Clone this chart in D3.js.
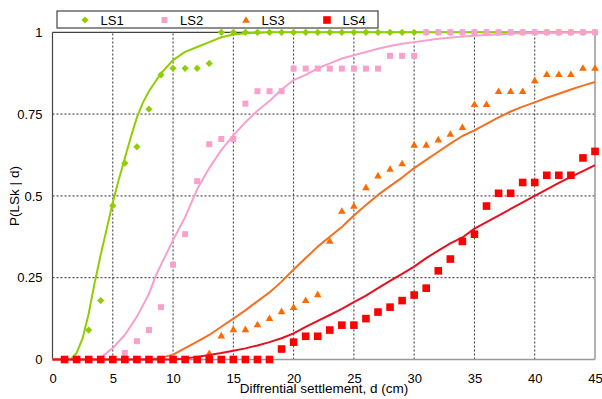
<!DOCTYPE html>
<html><head><meta charset="utf-8">
<script src="https://cdn.jsdelivr.net/npm/d3@7"></script>
<style>
html,body{margin:0;padding:0;background:#fff;}
svg{display:block;font-family:"Liberation Sans",Arial,sans-serif;}
</style></head>
<body><svg id="c" width="602" height="399"></svg>
<script>
// ---- data ----
const seriesNames = ["LS1","LS2","LS3","LS4"];
const dValues = [1,2,3,4,5,6,7,8,9,10,11,12,13,14,15,16,17,18,19,20,21,22,23,24,25,26,27,28,29,30,31,32,33,34,35,36,37,38,39,40,41,42,43,44,45];
const ls1Points = [0,0,0.09,0.18,0.47,0.60,0.65,0.765,0.87,0.89,0.89,0.89,0.905,1,1,1,1,1,1,1,1,1,1,1,1,1,1,1,1,1,1,1,1,1,1,1,1,1,1,1,1,1,1,1,1];
const ls2Points = [0,0,0,0,0,0.02,0.056,0.09,0.16,0.29,0.383,0.545,0.658,0.674,0.674,0.782,0.82,0.82,0.82,0.889,0.889,0.889,0.889,0.889,0.889,0.889,0.889,0.928,0.928,0.928,1,1,1,1,1,1,1,1,1,1,1,1,1,1,1];
const ls3Points = [0,0,0,0,0,0,0,0,0,0,0,0,0.019,0.073,0.092,0.092,0.107,0.126,0.147,0.16,0.181,0.199,0.362,0.454,0.469,0.526,0.562,0.582,0.599,0.656,0.656,0.672,0.689,0.71,0.78,0.78,0.82,0.82,0.82,0.853,0.872,0.872,0.872,0.891,0.891];
const ls4Points = [0,0,0,0,0,0,0,0,0,0,0,0,0,0,0,0,0,0,0.032,0.053,0.071,0.071,0.09,0.105,0.105,0.125,0.145,0.16,0.18,0.197,0.218,0.271,0.307,0.361,0.383,0.469,0.508,0.508,0.541,0.541,0.563,0.563,0.563,0.616,0.636];

const curve1D = [0,1,1.5,2,2.5,3,3.5,4,4.5,5,5.5,6,6.5,7,7.5,8,9,10,11,12,13,14,15,16,18,20,25,30,35,40,45];
const curve1V = [0,0,0,0.02,0.065,0.14,0.235,0.32,0.40,0.48,0.55,0.615,0.68,0.74,0.785,0.82,0.875,0.915,0.94,0.955,0.97,0.985,0.993,0.997,1,1,1,1,1,1,1];
const curve2D = [0,1,2,3,3.7,4,5,6,7,8,8.5,9,10,11,12,13,14,15,16,17,18,19,20,21,22,23,24,25,26,27,28,29,30,32,34,36,38,40,45];
const curve2V = [0,0,0,0,0,0.005,0.035,0.075,0.131,0.2,0.25,0.29,0.365,0.435,0.52,0.585,0.64,0.685,0.725,0.76,0.79,0.825,0.854,0.87,0.89,0.905,0.92,0.93,0.94,0.95,0.958,0.965,0.97,0.98,0.987,0.992,0.996,0.998,1];
const curve3D = [0,8,9,10,11,12,13,14,15,16,17,18,19,20,21,22,23,24,25,26,27,28,29,30,31,32,33,34,35,36,37,38,39,40,41,42,43,44,45];
const curve3V = [0,0,0.005,0.015,0.035,0.055,0.075,0.1,0.125,0.15,0.178,0.205,0.238,0.275,0.31,0.345,0.375,0.405,0.44,0.472,0.503,0.53,0.556,0.585,0.61,0.635,0.66,0.683,0.70,0.72,0.74,0.758,0.773,0.786,0.8,0.812,0.825,0.837,0.848];
const curve4D = [0,10,11,12,13,14,15,16,17,18,19,20,21,22,23,24,25,26,27,28,29,30,31,32,33,34,35,36,37,38,39,40,41,42,43,44,45];
const curve4V = [0,0,0.003,0.008,0.014,0.02,0.027,0.034,0.043,0.053,0.065,0.08,0.1,0.118,0.136,0.155,0.175,0.195,0.218,0.24,0.262,0.284,0.31,0.333,0.355,0.373,0.4,0.42,0.44,0.46,0.48,0.5,0.52,0.54,0.558,0.576,0.594];

const xTicks = [0,5,10,15,20,25,30,35,40,45];
const xTickLabels = ["0","5","10","15","20","25","30","35","40","45"];
const yTicks = [0,0.25,0.5,0.75,1];
const yTickLabels = ["0","0.25","0.5","0.75","1"];
const xTitle = "Diffrential settlement, d (cm)";
const yTitle = "P(LSk | d)";

// ---- styles ----
const markerColors = ["#8fce00","#f9a0cc","#ff6a00","#ff0000"];
const lineColors = ["#8fce00","#f7a0cc","#f47020","#e8101e"];
const markerTypes = ["diamond","square","triangle","bigsquare"];
const FONT = "Liberation Sans, Arial, sans-serif";

const svg = d3.select("#c");
const x = d3.scaleLinear().domain([0,45]).range([52.5,595]);
const y = d3.scaleLinear().domain([0,1]).range([359.5,32.3]);

// grid
const grid = svg.append("g");
grid.selectAll("line.v").data(xTicks.filter(t=>t>0&&t<45)).enter().append("line")
  .attr("x1",d=>x(d)).attr("x2",d=>x(d)).attr("y1",y(0)).attr("y2",y(1))
  .attr("stroke","#333").attr("stroke-width",1).attr("stroke-dasharray","2,2");
grid.selectAll("line.h").data(yTicks.filter(t=>t>0&&t<1)).enter().append("line")
  .attr("x1",x(0)).attr("x2",x(45)).attr("y1",d=>y(d)).attr("y2",d=>y(d))
  .attr("stroke","#333").attr("stroke-width",1).attr("stroke-dasharray","2,2");

// frame
svg.append("line").attr("x1",x(45)).attr("x2",x(45)).attr("y1",y(0)).attr("y2",y(1)).attr("stroke","#999").attr("stroke-width",1.5);
svg.append("line").attr("x1",x(0)).attr("x2",x(45)).attr("y1",y(0)).attr("y2",y(0)).attr("stroke","#999").attr("stroke-width",1.5);
svg.append("line").attr("x1",x(0)).attr("x2",x(45)).attr("y1",y(1)).attr("y2",y(1)).attr("stroke","#444").attr("stroke-width",1.2);
svg.append("line").attr("x1",x(0)).attr("x2",x(0)).attr("y1",y(0)).attr("y2",y(1)).attr("stroke","#444").attr("stroke-width",1.2);

// axes (labels only)
const xAxis = d3.axisBottom(x).tickValues(xTicks).tickFormat((d,i)=>xTickLabels[i]).tickSize(0).tickPadding(14);
const gx = svg.append("g").attr("transform",`translate(0,${y(0)})`).call(xAxis);
gx.select(".domain").remove();
gx.attr("font-family",FONT);
gx.selectAll("text").attr("font-size","13px").attr("fill","#000");
const yAxis = d3.axisLeft(y).tickValues(yTicks).tickFormat((d,i)=>yTickLabels[i]).tickSize(0).tickPadding(10);
const gy = svg.append("g").attr("transform",`translate(${x(0)},0)`).call(yAxis);
gy.select(".domain").remove();
gy.attr("font-family",FONT);
gy.selectAll("text").attr("font-size","13px").attr("fill","#000");

// series
const curves = [[curve1D,curve1V],[curve2D,curve2V],[curve3D,curve3V],[curve4D,curve4V]];
const pts = [ls1Points,ls2Points,ls3Points,ls4Points];
const line = d3.line().x(d=>x(d[0])).y(d=>y(d[1]));

function drawMarker(g, type, cx, cy, color){
  if(type==="diamond"){
    g.append("path").attr("d",`M${cx},${cy-3.6}L${cx+3.6},${cy}L${cx},${cy+3.6}L${cx-3.6},${cy}Z`).attr("fill",color);
  } else if(type==="square"){
    g.append("rect").attr("x",cx-3).attr("y",cy-3).attr("width",6).attr("height",6).attr("fill",color);
  } else if(type==="triangle"){
    g.append("path").attr("d",`M${cx},${cy-3.8}L${cx+3.8},${cy+2.8}L${cx-3.8},${cy+2.8}Z`).attr("fill",color);
  } else {
    g.append("rect").attr("x",cx-3.8).attr("y",cy-3.8).attr("width",7.6).attr("height",7.6).attr("fill",color);
  }
}

seriesNames.forEach((name,i)=>{
  const g = svg.append("g");
  const c = curves[i][0].map((d,k)=>[d,curves[i][1][k]]);
  g.append("path").datum(c).attr("d",line).attr("fill","none").attr("stroke",lineColors[i]).attr("stroke-width",2).attr("stroke-linejoin","round");
  dValues.forEach((d,k)=>drawMarker(g, markerTypes[i], x(d), y(pts[i][k]), markerColors[i]));
});

// titles
svg.append("text").attr("x",324).attr("y",393).attr("text-anchor","middle").attr("font-family",FONT).attr("font-size","13.5px").text(xTitle);
svg.append("text").attr("transform","translate(18.5,196) rotate(-90)").attr("text-anchor","middle").attr("font-family",FONT).attr("font-size","13.5px").text(yTitle);

// legend
const lg = svg.append("g");
lg.append("rect").attr("x",57).attr("y",11).attr("width",321).attr("height",17).attr("fill","#fff").attr("stroke","#444").attr("stroke-width",1.2);
const legMarkX = [85,164.5,246,327];
seriesNames.forEach((name,i)=>{
  drawMarker(lg, markerTypes[i], legMarkX[i], 20, markerColors[i]);
  lg.append("text").attr("x",legMarkX[i]+15.5).attr("y",24.5).attr("font-family",FONT).attr("font-size","13px").text(name);
});
</script></body></html>
